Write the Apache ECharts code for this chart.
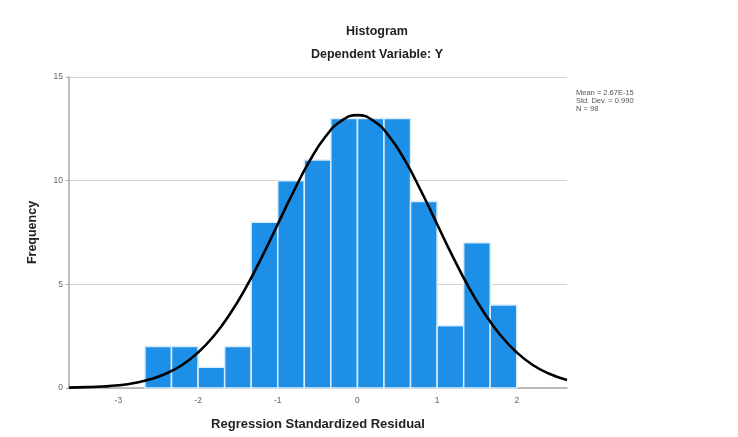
<!DOCTYPE html>
<html><head><meta charset="utf-8">
<script src="https://cdn.jsdelivr.net/npm/echarts@6/dist/echarts.min.js"></script>
<style>html,body{margin:0;padding:0;background:#fff}#c{width:738px;height:437px}</style>
</head><body><div id="c"></div>
<script>
// Histogram bins (centers, width 1/3) and frequencies
var binCenters = [-2.5, -2.167, -1.833, -1.5, -1.167, -0.833, -0.5, -0.167, 0.167, 0.5, 0.833, 1.167, 1.5, 1.833];
var binWidth = 0.3333;
var frequencies = [2, 2, 1, 2, 8, 10, 11, 13, 13, 13, 9, 3, 7, 4];
// Normal curve points
var curveX = [-3.62, -3.4, -3.2, -3.0, -2.8, -2.6, -2.4, -2.2, -2.0, -1.8, -1.6, -1.4, -1.2, -1.0, -0.8, -0.6, -0.4, -0.2, 0, 0.2, 0.4, 0.6, 0.8, 1.0, 1.2, 1.4, 1.6, 1.8, 2.0, 2.2, 2.4, 2.63];
var curveY = [0.02, 0.04, 0.07, 0.13, 0.24, 0.42, 0.70, 1.11, 1.71, 2.52, 3.57, 4.84, 6.31, 7.90, 9.49, 10.95, 12.13, 12.89, 13.16, 12.89, 12.13, 10.95, 9.49, 7.90, 6.31, 4.84, 3.57, 2.52, 1.71, 1.11, 0.70, 0.38];
var xTicks = [-3, -2, -1, 0, 1, 2];
var yTicks = [0, 5, 10, 15];
var statsLines = ['Mean = 2.67E-15', 'Std. Dev. = 0.990', 'N = 98'];

var chart = echarts.init(document.getElementById('c'));
var barData = binCenters.map(function (c, i) { return [c, frequencies[i]]; });
var lineData = curveX.map(function (x, i) { return [x, curveY[i]]; });

chart.setOption({
  animation: false,
  title: [
    { text: 'Histogram', left: 372, top: 20, textAlign: 'center',
      textStyle: { fontFamily: 'Liberation Sans', fontWeight: 'bold', fontSize: 12.5, color: '#222' } },
    { text: 'Dependent Variable: Y', left: 372, top: 43, textAlign: 'center',
      textStyle: { fontFamily: 'Liberation Sans', fontWeight: 'bold', fontSize: 12.5, color: '#222' } },
    { text: statsLines.join('\n'), left: 571, top: 84,
      textStyle: { fontFamily: 'Liberation Sans', fontWeight: 'normal', fontSize: 7.5, color: '#555', lineHeight: 8 } }
  ],
  grid: { left: 69, right: 171, top: 77, bottom: 49, containLabel: false },
  xAxis: {
    type: 'value', min: -3.62, max: 2.63,
    name: 'Regression Standardized Residual', nameLocation: 'middle', nameGap: 30,
    nameTextStyle: { fontFamily: 'Liberation Sans', fontWeight: 'bold', fontSize: 13, color: '#222' },
    axisLine: { onZero: false, lineStyle: { color: '#aaa', width: 1.5 } },
    axisTick: { show: false },
    splitLine: { show: false },
    axisLabel: {
      color: '#666', fontSize: 8.5, fontFamily: 'Liberation Sans', margin: 8,
      customValues: xTicks
    }
  },
  yAxis: {
    type: 'value', min: 0, max: 15, interval: 5,
    name: 'Frequency', nameLocation: 'middle', nameGap: 30, nameRotate: 90,
    nameTextStyle: { fontFamily: 'Liberation Sans', fontWeight: 'bold', fontSize: 12.5, color: '#222' },
    axisLine: { show: true, onZero: false, lineStyle: { color: '#aaa', width: 1.5 } },
    axisTick: { show: true, length: 3, lineStyle: { color: '#aaa' } },
    splitLine: { show: true, lineStyle: { color: '#d4d4d4', width: 1.2 } },
    axisLabel: { color: '#666', fontSize: 8.5, fontFamily: 'Liberation Sans', margin: 6 }
  },
  series: [
    {
      type: 'custom',
      data: barData,
      renderItem: function (params, api) {
        var c = api.value(0), v = api.value(1);
        var p0 = api.coord([c - binWidth / 2, v]);
        var p1 = api.coord([c + binWidth / 2, 0]);
        return {
          type: 'rect',
          shape: { x: p0[0], y: p0[1], width: p1[0] - p0[0], height: p1[1] - p0[1] },
          style: { fill: '#1e8fe6', stroke: '#d8ecfb', lineWidth: 1.5 }
        };
      },
      z: 2
    },
    {
      type: 'line', data: lineData, smooth: true, showSymbol: false,
      lineStyle: { color: '#000', width: 2.6 }, z: 3
    }
  ]
});
</script></body></html>
